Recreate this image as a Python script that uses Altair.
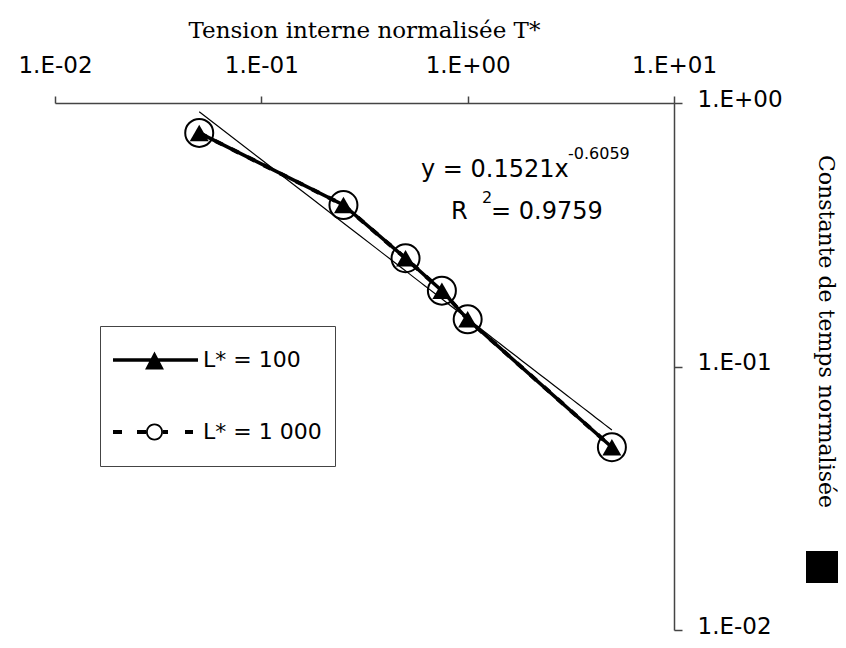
import math
import altair as alt
import pandas as pd

# ---- values ----
tension_T = [0.05, 0.25, 0.5, 0.75, 1.0, 5.0]
tau_L100 = [0.77, 0.41, 0.2575, 0.194, 0.151, 0.0494]
tau_L1000 = [0.77, 0.41, 0.2575, 0.194, 0.151, 0.0494]
series_names = ["L* = 100", "L* = 1 000"]

x_ticks = [0.01, 0.1, 1, 10]
x_tick_labels = ["1.E-02", "1.E-01", "1.E+00", "1.E+01"]
y_ticks = [0.01, 0.1, 1]
y_tick_labels = ["1.E-02", "1.E-01", "1.E+00"]

x_title = "Tension interne normalisée T*"
y_title = "Constante de temps normalisée"
eq_main = ["y = 0.1521x"]
eq_exp = ["-0.6059"]
r2_main = ["R"]
r2_exp = ["2"]
r2_value = ["= 0.9759"]

# ---- tables ----
rows = []
for name, vals in zip(series_names, [tau_L100, tau_L1000]):
    for t, v in zip(tension_T, vals):
        rows.append({"series": name, "T": t, "tau": v})
df = pd.DataFrame(rows)


def label_expr(ticks, labels):
    expr = f"'{labels[-1]}'"
    for t, l in reversed(list(zip(ticks[:-1], labels[:-1]))):
        expr = f"datum.value < {t * 3} ? '{l}' : {expr}"
    return expr


SANS = "DejaVu Sans"
SERIF = "DejaVu Serif"
AX = "#444444"

x_enc = alt.X(
    "T:Q",
    scale=alt.Scale(type="log", domain=[x_ticks[0], x_ticks[-1]]),
    axis=alt.Axis(
        orient="top", values=x_ticks, labelExpr=label_expr(x_ticks, x_tick_labels),
        grid=False, tickSize=7, tickWidth=1.5, tickColor=AX, domainColor=AX, domainWidth=1.5,
        labelFont=SANS, labelFontSize=23, labelColor="black", labelBaseline="middle",
        labelPadding=31, labelFlush=False, labelOverlap=False,
        title=x_title, titleFont=SERIF, titleFontSize=23, titleFontWeight="normal",
        titleColor="black", titleX=309, titleY=-73, titleBaseline="middle", titleAlign="center",
    ),
)
y_enc = alt.Y(
    "tau:Q",
    scale=alt.Scale(type="log", domain=[y_ticks[0], y_ticks[-1]]),
    axis=alt.Axis(
        orient="right", values=y_ticks, labelExpr=label_expr(y_ticks, y_tick_labels),
        grid=False, tickSize=8, tickWidth=1.5, tickColor=AX, domainColor=AX, domainWidth=1.5,
        labelFont=SANS, labelFontSize=23, labelColor="black", labelAlign="left",
        labelBaseline="middle", labelPadding=15, labelOffset=-4,
        labelFlush=False, labelOverlap=False,
        title=y_title, titleFont=SERIF, titleFontSize=22, titleFontWeight="normal",
        titleColor="black", titleAngle=90, titleX=151, titleY=228,
        titleBaseline="middle", titleAlign="center",
    ),
)

base = alt.Chart(df).encode(x=x_enc, y=y_enc)
f100 = alt.datum.series == series_names[0]
f1000 = alt.datum.series == series_names[1]

trend = (
    base.transform_filter(f100)
    .transform_regression("T", "tau", method="pow")
    .mark_line(color="black", strokeWidth=1.2)
)
dashed = base.transform_filter(f1000).mark_line(
    color="black", strokeWidth=4, strokeDash=[8, 10]
)
solid = base.transform_filter(f100).mark_line(color="black", strokeWidth=3.5)
circles = base.transform_filter(f1000).mark_point(
    shape="circle", size=784, filled=False, color="black", strokeWidth=2, opacity=1
)
triangles = base.transform_filter(f100).mark_point(
    shape="triangle-up", size=360, filled=True, color="black", opacity=1
)


# ---- legend symbols (line + marker) as custom symbol paths, unit = 21 px ----
def rect(x0, x1, h):
    return f"M{x0:.3f},{-h:.3f}L{x1:.3f},{-h:.3f}L{x1:.3f},{h:.3f}L{x0:.3f},{h:.3f}Z"


def ring(cx, R, r, n=28):
    outer = [(cx + R * math.cos(2 * math.pi * k / n), R * math.sin(2 * math.pi * k / n)) for k in range(n)]
    inner = [(cx + r * math.cos(2 * math.pi * k / n), r * math.sin(2 * math.pi * k / n)) for k in range(n)][::-1]
    p = "M" + "L".join(f"{x:.3f},{y:.3f}" for x, y in outer) + "Z"
    p += "M" + "L".join(f"{x:.3f},{y:.3f}" for x, y in inner) + "Z"
    return p


pad_v = "M0,-1Z M0,1Z"
mk_c = 0.976
path100 = (
    rect(-1.0, 3.048, 0.083)
    + f"M{mk_c:.3f},-0.40L{mk_c + 0.45:.3f},0.45L{mk_c - 0.45:.3f},0.45Z"
    + pad_v
)
path1000 = (
    rect(-1.0, -0.571, 0.095)
    + rect(0.143, 0.571, 0.095)
    + rect(1.381, 1.619, 0.095)
    + rect(2.429, 2.810, 0.095)
    + ring(mk_c, 0.405, 0.319)
    + pad_v
)

legend_layer = base.mark_point(filled=True, color="black", opacity=0).encode(
    shape=alt.Shape(
        "series:N",
        scale=alt.Scale(domain=series_names, range=[path100, path1000]),
        legend=alt.Legend(
            orient="none", legendX=45, legendY=223, title=None, padding=13,
            strokeColor=AX, fillColor="white", symbolSize=1764,
            symbolFillColor="black", symbolStrokeWidth=0, symbolOpacity=1,
            symbolOffset=0, labelOffset=48, rowPadding=30,
            labelFont=SANS, labelFontSize=22, labelColor="black", labelLimit=400,
        ),
    )
)


def note(txt, px, py, size):
    return alt.Chart(pd.DataFrame({"t": txt})).mark_text(
        font=SANS, fontSize=size, color="black", align="left", baseline="alphabetic"
    ).encode(text="t:N", x=alt.value(px), y=alt.value(py))


notes = [
    note(eq_main, 366, 74, 24),
    note(eq_exp, 513, 56, 16),
    note(r2_main, 396, 116, 24),
    note(r2_exp, 427, 100, 16),
    note(r2_value, 436, 116, 24),
]

square = alt.Chart(pd.DataFrame({"k": [0]})).mark_square(
    size=1024, color="black", filled=True, opacity=1
).encode(x=alt.value(767), y=alt.value(464))

chart = (
    alt.layer(trend, dashed, solid, circles, triangles, legend_layer, *notes, square)
    .properties(
        width=619, height=527,
        padding={"left": 47, "top": 95, "right": 164, "bottom": 10},
        autosize=alt.AutoSizeParams(type="none"),
        background="white",
    )
    .configure_view(stroke=None)
)

chart.save("out.html", embed_options={"renderer": "svg", "actions": False})
